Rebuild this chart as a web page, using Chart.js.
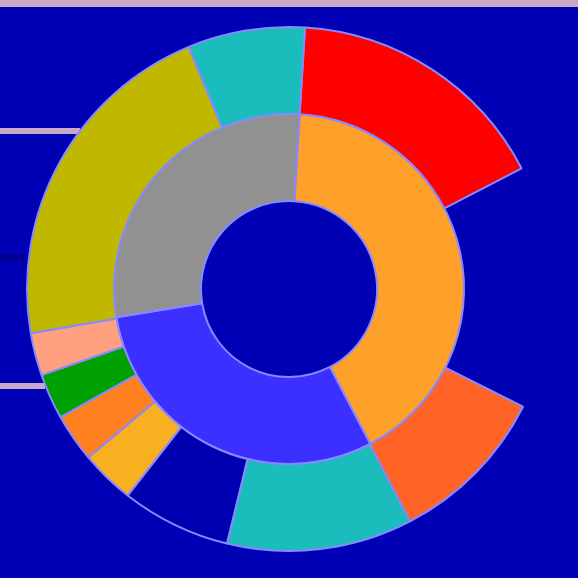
<!DOCTYPE html>
<html>
<head>
<meta charset="utf-8">
<script src="https://cdn.jsdelivr.net/npm/chart.js@4/dist/chart.umd.min.js"></script>
<style>
  html, body { margin: 0; padding: 0; background: #0000b4; }
  #wrap { width: 578px; height: 578px; }
</style>
</head>
<body>
<div id="wrap"><canvas id="sun"></canvas></div>
<script>
// inner ring (parents), values in degrees of sweep
const innerLabels = ['A', 'B', 'C'];
const innerValues = [148.8, 108.4, 102.8];
const innerColors = ['#ffa02a', '#3b30ff', '#919191'];

// outer ring (children); the "gap" entry is an empty piece of A
const outerLabels = ['A1', 'gap', 'A2', 'B1', 'B2', 'B3', 'B4', 'B5', 'B6', 'C1', 'C2'];
const outerValues = [59.1, 54.1, 35.8, 41.2, 24.3, 12, 10.7, 10.1, 9.5, 77.2, 26];
const outerColors = ['#ff0000', 'rgba(0,0,0,0)', '#ff6426', '#1abcbc', '#0000b0',
                     '#f8b020', '#ff8020', '#00a000', '#ffa080', '#c0b800', '#1abcbc'];

const edge = '#8888ff';

// stray guide lines seen behind the chart
const backdrop = {
    id: 'backdrop',
    beforeDatasetsDraw(chart) {
        const ctx = chart.ctx;
        ctx.save();
        ctx.fillStyle = '#c8a8c8';
        ctx.fillRect(0, 0, chart.width, 7);
        ctx.fillRect(0, 128, 80, 6);
        ctx.fillRect(0, 383, 45, 6);
        ctx.fillStyle = '#000090';
        ctx.fillRect(0, 254, 25, 7);
        ctx.restore();
    }
};

new Chart(document.getElementById('sun').getContext('2d'), {
    type: 'doughnut',
    data: {
        labels: outerLabels,
        datasets: [
            {
                data: outerValues,
                backgroundColor: outerColors,
                borderColor: outerLabels.map(l => l === 'gap' ? 'rgba(0,0,0,0)' : edge),
                borderWidth: outerLabels.map(l => l === 'gap' ? 0 : 2)
            },
            {
                data: innerValues,
                backgroundColor: innerColors,
                borderColor: edge,
                borderWidth: 2
            }
        ]
    },
    options: {
        responsive: true,
        maintainAspectRatio: false,
        animation: false,
        rotation: 3.5,
        cutout: '33.6%',
        layout: { padding: 26 },
        plugins: {
            legend: { display: false },
            tooltip: { enabled: false }
        }
    },
    plugins: [backdrop]
});
</script>
</body>
</html>
